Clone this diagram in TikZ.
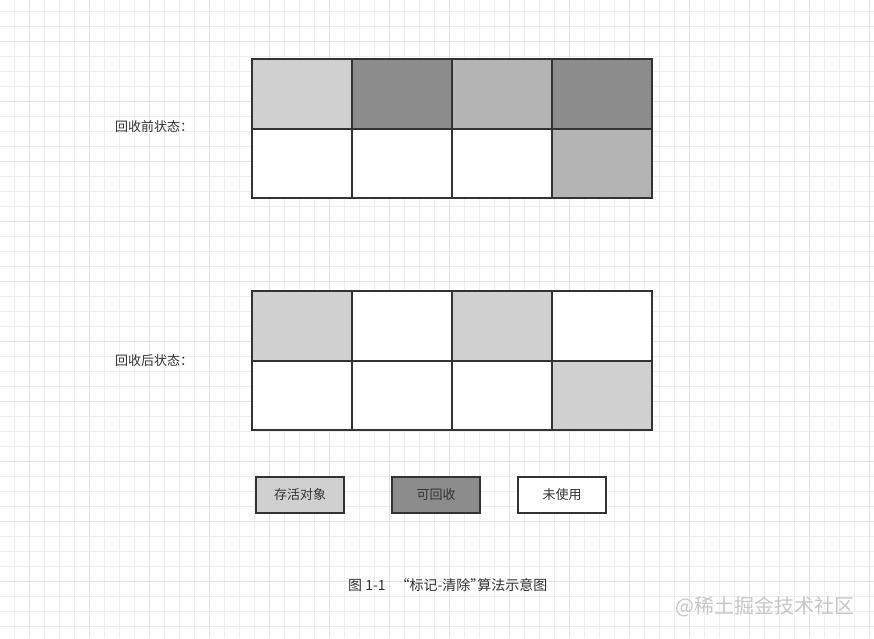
\documentclass[tikz,border=0pt]{standalone}
\usepackage{fontspec}
\setmainfont{Noto Sans CJK SC}
\usepackage{tikz}
\usetikzlibrary{positioning}

\definecolor{gridminor}{HTML}{EEEEEE}
\definecolor{gridmajor}{HTML}{E3E3E3}
\definecolor{edge}{HTML}{333333}
\definecolor{live}{HTML}{D0D0D0}
\definecolor{dead}{HTML}{8C8C8C}
\definecolor{free}{HTML}{B4B4B4}
\definecolor{ink}{HTML}{333333}

\tikzset{
  cell/.style={draw=edge, line width=2pt, minimum width=100pt, minimum height=69.5pt, inner sep=0pt},
  keybox/.style={draw=edge, line width=2pt, minimum width=88pt, minimum height=36pt, inner sep=0pt,
    font=\fontsize{13}{15}\selectfont, text=ink},
  label/.style={font=\fontsize{13}{15}\selectfont, text=ink, inner sep=0pt}
}

\begin{document}
\begin{tikzpicture}[x=1pt,y=-1pt]
\useasboundingbox (0,0) rectangle (874,638);
\fill[white] (0,0) rectangle (874,638);
% background grid
\foreach \gx in {14,29,...,874} \draw[gridminor, line width=.8pt] (\gx,0) -- (\gx,638);
\foreach \gy in {11.7,26.7,...,638} \draw[gridminor, line width=.8pt] (0,\gy) -- (874,\gy);
\foreach \gx in {29,89,...,874} \draw[gridmajor, line width=.8pt] (\gx,0) -- (\gx,638);
\foreach \gy in {41,101,...,638} \draw[gridmajor, line width=.8pt] (0,\gy) -- (874,\gy);

% before
\foreach \c/\fa/\fb in {1/live/white,2/dead/white,3/free/white,4/dead/free}{
  \node[cell, fill=\fa] (pre\c a) at (202+100*\c,93.75) {};
  \node[cell, fill=\fb] (pre\c b) at (202+100*\c,163.25) {};
}
\node[label, anchor=west] (prelabel) at (115,127) {回收前状态：};

% after
\foreach \c/\fa/\fb in {1/live/white,2/white/white,3/live/white,4/white/live}{
  \node[cell, fill=\fa] (post\c a) at (202+100*\c,325.75) {};
  \node[cell, fill=\fb] (post\c b) at (202+100*\c,395.25) {};
}
\node[label, anchor=west] (postlabel) at (115,361) {回收后状态：};

% legend
\node[keybox, fill=live] (keylive) at (300,494.5) {存活对象};
\node[keybox, fill=dead] (keydead) at (436,494.5) {可回收};
\node[keybox, fill=white] (keyfree) at (562,494.5) {未使用};

\node[label, font=\fontsize{14}{16}\selectfont, anchor=west] (caption) at (348,585)
  {图 1-1\quad\hspace{-.3em}“标记-清除”\hspace{-.5em}算法示意图};
\node[font=\fontsize{20}{22}\selectfont, text=black!22, anchor=east, inner sep=0pt] (mark) at (855,607) {@稀土掘金技术社区};
\end{tikzpicture}
\end{document}
